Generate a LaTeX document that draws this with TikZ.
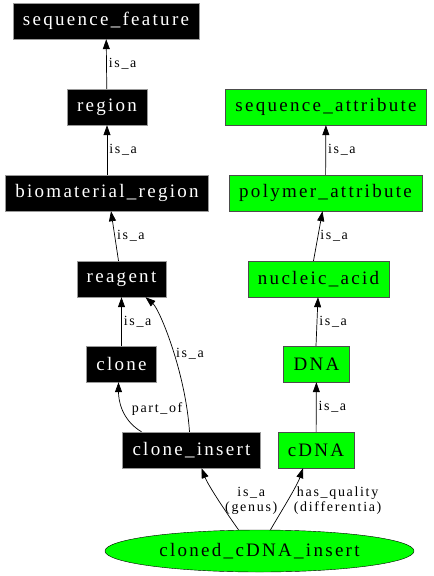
\documentclass[tikz,border=0pt]{standalone}
\usepackage{fontspec}
\usetikzlibrary{arrows.meta,shapes.geometric}

\setmainfont{Liberation Serif}
\newfontfamily\gvfont[LetterSpace=12]{Liberation Serif}
\newcommand\termfont{\gvfont\fontsize{19}{22}\selectfont}
\newcommand\relfont{\gvfont\fontsize{14}{15}\selectfont}

\begin{document}
\begin{tikzpicture}[
    x=1pt, y=-1pt,
    term/.style={rectangle, draw=gray!80, fill=black, text=white, minimum height=36pt, inner xsep=10pt, font=\termfont},
    quality/.style={rectangle, draw=black!70, fill=green, minimum height=36pt, inner xsep=10pt, font=\termfont},
    xpterm/.style={ellipse, draw=black, fill=green, minimum width=309pt, minimum height=42pt, inner sep=0pt, font=\termfont},
    rel/.style={font=\relfont, inner sep=2pt, align=center},
    arrow/.style={-{Triangle[length=10pt,width=7pt]}, line width=0.7pt}
]
    \useasboundingbox (0,0) rectangle (434,576);

    % left column: sequence features
    \node[term] (sequence_feature) at (106,21) {sequence\_feature};
    \node[term] (region) at (107,107) {region};
    \node[term] (biomaterial_region) at (107,193) {biomaterial\_region};
    \node[term] (reagent) at (121.5,279) {reagent};
    \node[term] (clone) at (121.5,364) {clone};
    \node[term] (clone_insert) at (191.5,450) {clone\_insert};

    % right column: attributes
    \node[quality] (sequence_attribute) at (326,107) {sequence\_attribute};
    \node[quality] (polymer_attribute) at (325.5,193) {polymer\_attribute};
    \node[quality] (nucleic_acid) at (318.5,279) {nucleic\_acid};
    \node[quality] (DNA) at (316.5,364) {DNA};
    \node[quality] (cDNA) at (316,450) {cDNA};

    \node[xpterm] (cloned_cDNA_insert) at (259.5,551) {cloned\_cDNA\_insert};

    \draw[arrow] (region) -- node[rel, right] {is\_a} (sequence_feature);
    \draw[arrow] (biomaterial_region) -- node[rel, right] {is\_a} (region);
    \draw[arrow] ([xshift=-3pt]reagent.north) -- node[rel, right] {is\_a} ([xshift=4pt]biomaterial_region.south);
    \draw[arrow] (clone) -- node[rel, right] {is\_a} (reagent);
    \draw[arrow] ([xshift=-2pt]clone_insert.north) .. controls +(-4,-60) and +(14,12) .. node[rel, right, pos=0.45] {is\_a} ([xshift=24pt]reagent.south);
    \draw[arrow] ([xshift=-50pt]clone_insert.north) .. controls +(-20,-12) and +(0,18) .. node[rel, right=7pt, pos=0.5] {part\_of} ([xshift=-3pt]clone.south);

    \draw[arrow] (polymer_attribute) -- node[rel, right] {is\_a} (sequence_attribute);
    \draw[arrow] ([xshift=-5pt]nucleic_acid.north) -- node[rel, right] {is\_a} ([xshift=-3pt]polymer_attribute.south);
    \draw[arrow] ([xshift=-0.5pt]DNA.north) -- node[rel, right] {is\_a} ([xshift=-0.5pt]nucleic_acid.south);
    \draw[arrow] (cDNA) -- node[rel, right] {is\_a} (DNA);

    \draw[arrow] ([xshift=-21pt]cloned_cDNA_insert.north) .. controls +(-10,-14) and +(7,18) .. node[rel, right=4pt] {is\_a\\(genus)} ([xshift=10pt]clone_insert.south);
    \draw[arrow] ([xshift=11pt]cloned_cDNA_insert.north) .. controls +(8,-14) and +(-6,18) .. node[rel, right=4pt] {has\_quality\\(differentia)} ([xshift=-13pt]cDNA.south);
\end{tikzpicture}
\end{document}
